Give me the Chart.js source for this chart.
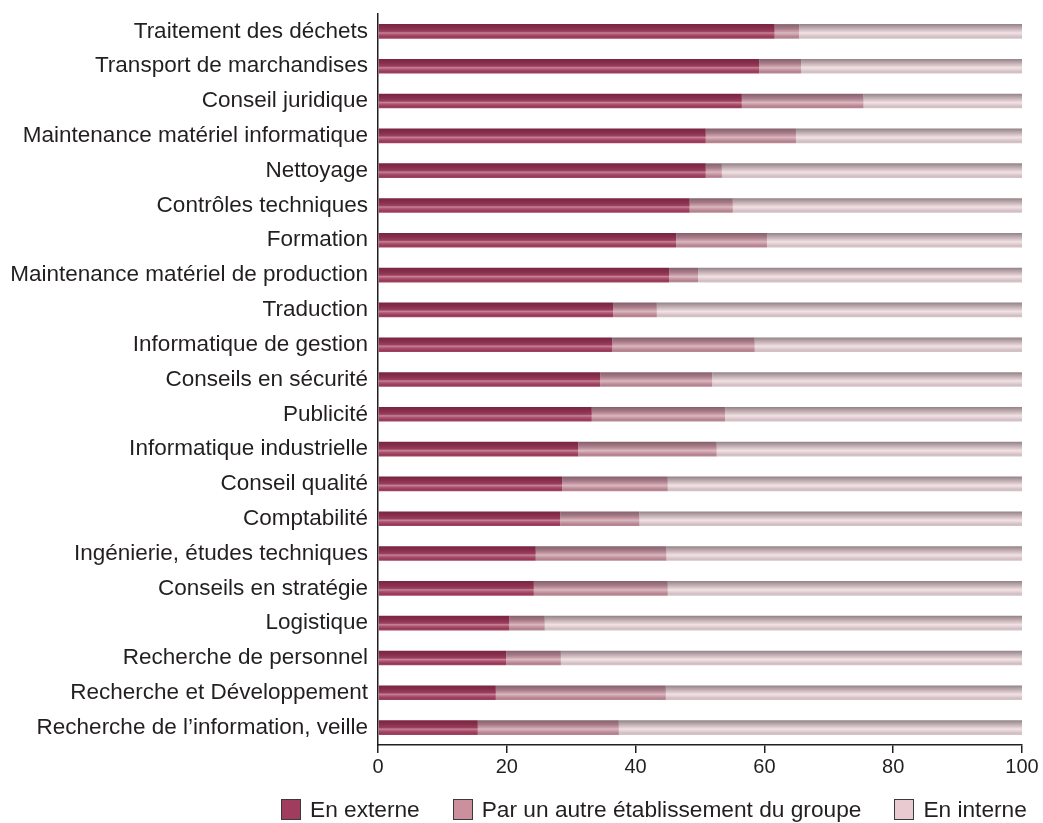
<!DOCTYPE html>
<html lang="fr">
<head>
<meta charset="utf-8">
<title>Mode de réalisation des fonctions</title>
<script src="https://cdn.jsdelivr.net/npm/chart.js@4.4.1/dist/chart.umd.min.js"></script>
<style>
  html, body { margin: 0; padding: 0; background: #ffffff; }
  #wrap { position: relative; width: 1043px; height: 823px; }
  #chart { position: absolute; left: 0; top: 0; }
  #legend {
    position: absolute; left: 281px; top: 796px;
    display: flex; align-items: center;
    font-family: "Liberation Sans", Arial, sans-serif; font-size: 22.7px; color: #231f20;
  }
  .item { display: flex; align-items: center; margin-right: 33px; }
  .item:last-child { margin-right: 0; }
  .sw { width: 20px; height: 21px; border: 1px solid #3a3a3a; box-sizing: border-box; margin-right: 9px; }
</style>
</head>
<body>
<div id="wrap">
  <canvas id="chart" width="1043" height="823"></canvas>
  <div id="legend"></div>
</div>
<script>
// Activités, de haut en bas
const categories = [
  "Traitement des déchets",
  "Transport de marchandises",
  "Conseil juridique",
  "Maintenance matériel informatique",
  "Nettoyage",
  "Contrôles techniques",
  "Formation",
  "Maintenance matériel de production",
  "Traduction",
  "Informatique de gestion",
  "Conseils en sécurité",
  "Publicité",
  "Informatique industrielle",
  "Conseil qualité",
  "Comptabilité",
  "Ingénierie, études techniques",
  "Conseils en stratégie",
  "Logistique",
  "Recherche de personnel",
  "Recherche et Développement",
  "Recherche de l’information, veille"
];

// Parts en %
const enExterne = [61.6, 59.2, 56.5, 50.9, 50.9, 48.4, 46.3, 45.2, 36.5, 36.4, 34.5, 33.2, 31.1, 28.6, 28.3, 24.5, 24.2, 20.4, 19.9, 18.3, 15.5];
const parGroupe = [3.8, 6.5, 18.9, 14.0, 2.5, 6.7, 14.1, 4.5, 6.8, 22.1, 17.4, 20.7, 21.5, 16.4, 12.3, 20.3, 20.8, 5.5, 8.5, 26.4, 21.9];
const enInterne = [34.6, 34.3, 24.6, 35.1, 46.6, 44.9, 39.6, 50.3, 56.7, 41.5, 48.1, 46.1, 47.4, 55.0, 59.4, 55.2, 55.0, 74.1, 71.6, 55.3, 62.6];

const seriesNames = ["En externe", "Par un autre établissement du groupe", "En interne"];
const xTicks = [0, 20, 40, 60, 80, 100];

const FONT = "'Liberation Sans', Arial, sans-serif";
const INK = "#231f20";
const BAR_PCT = 0.42;

// Flat colours used by the legend swatches
const swatch = ["#a03d5e", "#cc8f9c", "#e8cad0"];

// Tube-like shading of each bar: dark top edge, light band below middle
const shading = [
  [[0, "#78243f"], [0.3, "#89304f"], [0.5, "#9a3f5f"], [0.6, "#c88397"], [0.72, "#ab5570"], [0.88, "#993858"], [1, "#a24664"]],
  [[0, "#84606b"], [0.3, "#a67b88"], [0.5, "#c89ca8"], [0.6, "#dcb8c0"], [0.72, "#c99fa9"], [0.88, "#b4818e"], [1, "#b88b97"]],
  [[0, "#928387"], [0.3, "#c2b0b5"], [0.5, "#e2cfd4"], [0.6, "#f1e2e6"], [0.72, "#e5d3d8"], [0.88, "#d1bec3"], [1, "#d4c5c9"]]
];

function shade(seriesIndex) {
  return (c) => {
    const chart = c.chart;
    const y = chart.scales && chart.scales.y;
    if (c.dataIndex === undefined || !y || !chart.chartArea) return swatch[seriesIndex];
    const cy = y.getPixelForValue(c.dataIndex);
    const half = (y.height / categories.length) * BAR_PCT / 2;
    const g = chart.ctx.createLinearGradient(0, cy - half, 0, cy + half);
    shading[seriesIndex].forEach(([p, col]) => g.addColorStop(p, col));
    return g;
  };
}

const series = [enExterne, parGroupe, enInterne];
const datasets = series.map((values, i) => ({
  label: seriesNames[i],
  data: values,
  backgroundColor: shade(i),
  borderWidth: 0,
  barPercentage: BAR_PCT,
  categoryPercentage: 1
}));

new Chart(document.getElementById("chart"), {
  type: "bar",
  data: { labels: categories, datasets },
  options: {
    indexAxis: "y",
    responsive: false,
    animation: false,
    events: [],
    layout: { padding: { top: 14, right: 21, bottom: 42, left: 0 } },
    plugins: {
      legend: { display: false },
      tooltip: { enabled: false }
    },
    scales: {
      x: {
        stacked: true,
        min: 0,
        max: 100,
        afterBuildTicks: (s) => { s.ticks = xTicks.map(v => ({ value: v })); },
        ticks: { font: { family: FONT, size: 20 }, color: INK, padding: 2 },
        grid: { display: true, drawOnChartArea: false, drawTicks: true, tickLength: 8, color: INK, lineWidth: 1.5 },
        border: { display: true, color: INK, width: 1.5 }
      },
      y: {
        stacked: true,
        afterFit: (s) => { s.width = 378; s.paddingTop = 0; s.paddingBottom = 0; },
        ticks: { font: { family: FONT, size: 22.5 }, color: INK, padding: 2, autoSkip: false },
        grid: { display: false },
        border: { display: true, color: INK, width: 1.5 }
      }
    }
  }
});

// Legend below the plot
const legend = document.getElementById("legend");
seriesNames.forEach((name, i) => {
  const item = document.createElement("div");
  item.className = "item";
  const sw = document.createElement("span");
  sw.className = "sw";
  sw.style.background = swatch[i];
  const txt = document.createElement("span");
  txt.textContent = name;
  item.appendChild(sw);
  item.appendChild(txt);
  legend.appendChild(item);
});
</script>
</body>
</html>
